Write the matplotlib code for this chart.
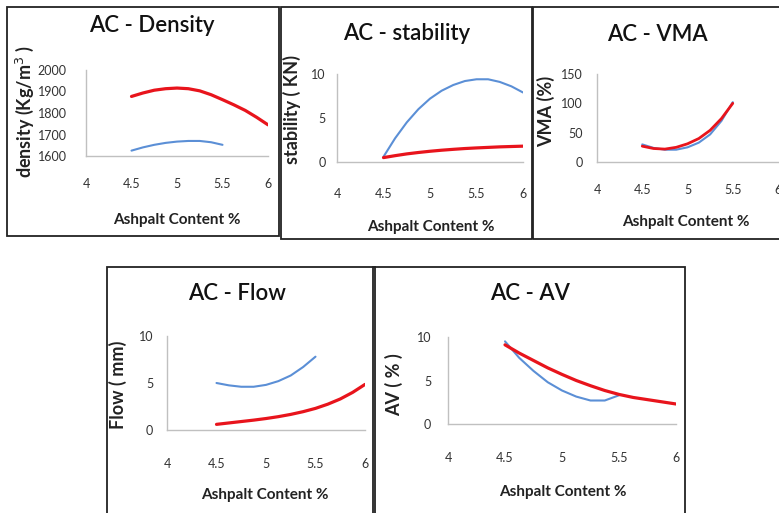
import matplotlib
matplotlib.use("Agg")
import matplotlib.pyplot as plt
from matplotlib.patches import Rectangle

W, H = 779, 513

# asphalt content grids
x_to_55 = [4.5, 4.625, 4.75, 4.875, 5.0, 5.125, 5.25, 5.375, 5.5]
x_to_60 = [4.5, 4.625, 4.75, 4.875, 5.0, 5.125, 5.25, 5.375, 5.5, 5.625, 5.75, 5.875, 6.0]
x_ticks = [4, 4.5, 5, 5.5, 6]
x_tick_labels = ["4", "4.5", "5", "5.5", "6"]

density_red = [1877, 1893, 1906, 1913, 1916, 1913, 1903, 1885, 1862, 1838, 1812, 1780, 1745]
density_blue = [1625, 1640, 1652, 1661, 1667, 1670, 1670, 1664, 1652]

stability_red = [0.5, 0.72, 0.92, 1.08, 1.22, 1.34, 1.44, 1.53, 1.6, 1.66, 1.72, 1.76, 1.8]
stability_blue = [0.6, 2.7, 4.5, 6.0, 7.2, 8.1, 8.75, 9.2, 9.4, 9.4, 9.1, 8.6, 7.9]

vma_red = [27, 23, 22, 25, 31, 40, 54, 74, 100]
vma_blue = [30, 24, 21, 21, 25, 33, 47, 70, 102]

flow_red = [0.6, 0.75, 0.9, 1.05, 1.22, 1.42, 1.66, 1.95, 2.3, 2.75, 3.3, 4.0, 4.85]
flow_blue = [5.0, 4.75, 4.6, 4.6, 4.8, 5.2, 5.8, 6.7, 7.8]

av_red = [9.1, 8.15, 7.3, 6.45, 5.7, 5.0, 4.4, 3.85, 3.4, 3.05, 2.8, 2.55, 2.3]
av_blue = [9.5, 7.6, 6.1, 4.8, 3.85, 3.15, 2.7, 2.7, 3.3]

RED = "#e8141c"
BLUE = "#5b8fd6"

plt.rcParams["font.family"] = ["Lato", "DejaVu Sans"]

fig = plt.figure(figsize=(W / 100, H / 100), dpi=100)


def fx(x):
    return x / W


def fy(y):
    return 1 - y / H


def panel(box, ax_px, title, ylabel, yticks, ylim, series, text_px):
    # box: (x0, y0, x1, y1) frame in pixels ; ax_px: (x at 4, x at 6, y bottom, y top)
    x0, y0, x1, y1 = box
    fig.patches.append(Rectangle((fx(x0), fy(y1)), (x1 - x0) / W, (y1 - y0) / H,
                                 transform=fig.transFigure, fill=False,
                                 edgecolor="#222222", linewidth=1.3))
    xa, xb, yb, yt = ax_px
    ax = fig.add_axes([fx(xa), fy(yb), (xb - xa) / W, (yb - yt) / H])
    for xs, ys, c, lw in series:
        ax.plot(xs, ys, color=c, linewidth=lw, solid_capstyle="round")
    ax.set_xlim(4, 6)
    ax.set_ylim(*ylim)
    ax.set_yticks(yticks)
    ax.set_xticks(x_ticks)
    ax.set_xticklabels(x_tick_labels)
    for s in ["top", "right"]:
        ax.spines[s].set_visible(False)
    for s in ["left", "bottom"]:
        ax.spines[s].set_color("#c0c0c0")
        ax.spines[s].set_linewidth(1.0)
    ax.patch.set_alpha(0)
    ax.tick_params(length=0, labelsize=9, colors="#333333")
    ax.tick_params(axis="x", pad=text_px["xpad"])
    ax.tick_params(axis="y", pad=text_px["ypad"])
    tx, ty = text_px["title"]
    fig.text(fx(tx), fy(ty), title, ha="center", va="center", fontsize=16,
             fontweight="semibold", color="#111111")
    lx, ly = text_px["ylabel"]
    fig.text(fx(lx), fy(ly), ylabel, ha="center", va="center", rotation=90,
             fontsize=13, fontweight="bold", color="#222222")
    xx, xy = text_px["xlabel"]
    fig.text(fx(xx), fy(xy), "Ashpalt Content %", ha="center", va="center",
             fontsize=11, fontweight="bold", color="#222222")
    return ax


panel((7, 7, 279, 236), (86, 268, 156, 70), "AC - Density", "density (Kg/m$^3$ )",
      [1600, 1700, 1800, 1900, 2000], (1600, 2000),
      [(x_to_55, density_blue, BLUE, 1.5), (x_to_60, density_red, RED, 2.3)],
      {"xpad": 16, "ypad": 14, "title": (152, 25), "ylabel": (25, 112), "xlabel": (177, 220)})

panel((281, 7, 532, 239), (337, 523, 162, 74), "AC - stability", "stability ( KN)",
      [0, 5, 10], (0, 10),
      [(x_to_60, stability_blue, BLUE, 1.5), (x_to_60, stability_red, RED, 2.3)],
      {"xpad": 19, "ypad": 8, "title": (407, 33), "ylabel": (292, 110), "xlabel": (431, 227)})

panel((533, 7, 790, 239), (597, 778, 162, 74), "AC - VMA", "VMA (%)",
      [0, 50, 100, 150], (0, 150),
      [(x_to_55, vma_blue, BLUE, 1.5), (x_to_55, vma_red, RED, 2.0)],
      {"xpad": 16, "ypad": 10, "title": (657, 35), "ylabel": (546, 111), "xlabel": (686, 222)})

panel((107, 267, 375, 520), (167, 365, 430, 336), "AC - Flow", "Flow ( mm)",
      [0, 5, 10], (0, 10),
      [(x_to_55, flow_blue, BLUE, 1.5), (x_to_60, flow_red, RED, 2.3)],
      {"xpad": 20, "ypad": 10, "title": (237, 293), "ylabel": (118, 385), "xlabel": (265, 495)})

panel((373, 267, 685, 520), (448, 676, 424, 337), "AC - AV", "AV ( % )",
      [0, 5, 10], (0, 10),
      [(x_to_55, av_blue, BLUE, 1.5), (x_to_60, av_red, RED, 2.3)],
      {"xpad": 20, "ypad": 12, "title": (530, 293), "ylabel": (394, 385), "xlabel": (563, 492)})

fig.savefig("out.png", dpi=100)
